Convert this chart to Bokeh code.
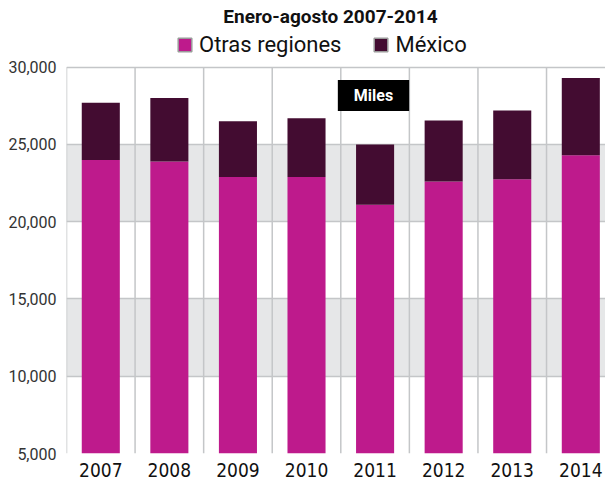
from bokeh.plotting import figure
from bokeh.models import (Range1d, FixedTicker, NumeralTickFormatter, Label,
                          Legend, LegendItem, ColumnDataSource)
from bokeh.embed import file_html
from bokeh.resources import INLINE

years = ["2007", "2008", "2009", "2010", "2011", "2012", "2013", "2014"]
otras = [24000, 23900, 22900, 22900, 21100, 22600, 22750, 24300]
mexico = [3700, 4100, 3600, 3800, 3900, 3950, 4450, 5000]
y_ticks = [5000, 10000, 15000, 20000, 25000, 30000]

title_text = "Enero-agosto 2007-2014"
series_names = ["Otras regiones", "México"]
colors = ["#be1a8c", "#430c31"]
unit_text = "Miles"

FONT = "Roboto"
FONT2 = "DejaVu Sans Condensed"
GRID = "#c4c6c8"
BAND = "#e6e7e8"

xs = [i + 0.5 for i in range(len(years))]
bounds = list(range(len(years) + 1))
src = ColumnDataSource(dict(x=xs, otras=otras, mexico=mexico))
band_lo = [y_ticks[i] for i in range(1, len(y_ticks) - 1, 2)]
band_hi = [y_ticks[i + 1] for i in range(1, len(y_ticks) - 1, 2)]

# headroom above the top tick holds the title and legend
y_top = y_ticks[-1] + 4317

p = figure(width=605, height=479, output_backend="svg", toolbar_location=None,
           x_range=Range1d(0, 7.86), y_range=Range1d(y_ticks[0], y_top),
           title_location=None,
           min_border_top=0, min_border_left=66, min_border_right=0,
           min_border_bottom=0)
p.outline_line_color = None
p.background_fill_color = "white"

# alternating bands
p.quad(left=[0] * len(band_lo), right=[len(years)] * len(band_lo),
       bottom=band_lo, top=band_hi, fill_color=BAND, line_color=None,
       level="image")

# grids
p.ygrid.ticker = FixedTicker(ticks=y_ticks)
p.ygrid.grid_line_color = GRID
p.ygrid.grid_line_width = 1.5
p.xgrid.visible = False
p.segment(x0=bounds, x1=bounds, y0=[y_ticks[0]] * len(bounds),
          y1=[y_ticks[-1]] * len(bounds), line_color=GRID, line_width=1.5)

rs = p.vbar_stack(["otras", "mexico"], x="x", width=0.555, source=src,
                  color=colors, line_color=None)

# hidden twins of the bars, only used to draw bordered legend squares
leg_items = []
for name, c in zip(series_names, colors):
    twin = p.vbar(x="x", top="otras", width=0.555, source=src, fill_color=c,
                  line_color="#9a9a9a", line_width=1.5, visible=False)
    leg_items.append(LegendItem(label=name, renderers=[twin]))

# axes
p.yaxis.ticker = FixedTicker(ticks=y_ticks)
p.yaxis.formatter = NumeralTickFormatter(format="0,0")
p.yaxis.major_label_text_font = FONT
p.yaxis.major_label_text_font_size = "16px"
p.yaxis.major_label_text_color = "#333333"
p.yaxis.major_label_standoff = 4
p.xaxis.ticker = FixedTicker(ticks=xs)
p.xaxis.major_label_overrides = {x: y for x, y in zip(xs, years)}
p.xaxis.major_label_text_font = FONT2
p.xaxis.major_label_text_font_size = "19px"
p.xaxis.major_label_text_color = "#111111"
p.xaxis.major_label_standoff = 3
for ax in (p.xaxis, p.yaxis):
    ax.axis_line_color = None
    ax.major_tick_line_color = None
    ax.minor_tick_line_color = None

legend = Legend(items=leg_items, orientation="horizontal", location=(110, 396),
                glyph_width=17, glyph_height=17, label_standoff=6, spacing=31,
                padding=0, margin=0, border_line_color=None,
                background_fill_alpha=0, label_text_font=FONT,
                label_text_font_size="22px", label_text_color="#111111",
                inactive_fill_alpha=0)
p.add_layout(legend, "center")

# title
p.add_layout(Label(x=264, y=437, x_units="screen", y_units="screen",
                   text=title_text, text_align="center",
                   text_baseline="alphabetic", text_font=FONT,
                   text_font_style="bold", text_font_size="19px",
                   text_color="#111111"))

# unit box
p.add_layout(Label(x=307, y=358, x_units="screen", y_units="screen",
                   text=unit_text, text_align="center", text_baseline="middle",
                   text_font=FONT, text_font_style="bold",
                   text_font_size="16px", text_color="white",
                   background_fill_color="black", padding=(16, 6)))

open("out.html", "w").write(file_html(p, INLINE))
